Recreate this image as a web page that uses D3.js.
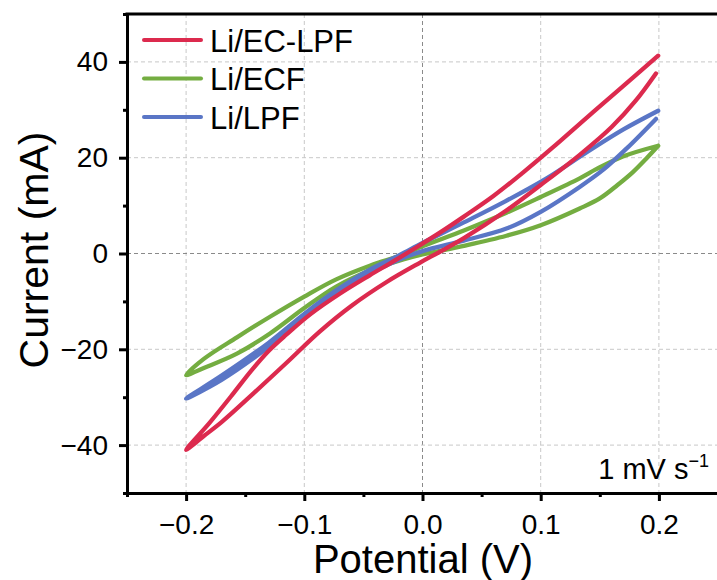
<!DOCTYPE html>
<html>
<head>
<meta charset="utf-8">
<script src="https://cdn.jsdelivr.net/npm/d3@7"></script>
<style>
  body { margin: 0; background: #fff; }
  svg { display: block; font-family: "Liberation Sans", Arial, sans-serif; }
</style>
</head>
<body>
<div class="canvas"></div>
<script>
// CV loops, potential (V) and current (mA)
const redPotential = [0.1994, 0.17, 0.14, 0.11, 0.085, 0.06, 0.035, 0.015, -0.005, -0.025, -0.045, -0.07, -0.095, -0.115, -0.13, -0.145, -0.16, -0.18, -0.2,
    -0.185, -0.17, -0.143, -0.115, -0.087, -0.06, -0.03, -0.002, 0.015, 0.035, 0.07, 0.1, 0.133, 0.16, 0.18, 0.1975];
const redCurrent = [41.3, 35.0, 28.6, 22.1, 16.9, 12.0, 7.7, 4.4, 1.3, -1.7, -4.6, -8.4, -12.7, -16.9, -20.3, -24.5, -29.2, -35.3, -41.0,
    -38.1, -35.2, -29.2, -22.8, -16.3, -10.9, -5.9, -1.9, 0.4, 3.2, 8.8, 14.3, 20.6, 26.4, 31.8, 37.6];

const greenPotential = [0.1994, 0.17, 0.147, 0.133, 0.1, 0.071, 0.035, 0.0, -0.017, -0.044, -0.073, -0.1, -0.129, -0.157, -0.185, -0.2,
    -0.185, -0.157, -0.129, -0.1, -0.073, -0.044, -0.017, 0.0, 0.035, 0.071, 0.1, 0.133, 0.15, 0.165, 0.178, 0.19, 0.1994];
const greenCurrent = [22.5, 20.3, 17.6, 15.7, 11.8, 8.5, 4.8, 1.5, -0.3, -2.5, -5.4, -9.0, -13.2, -17.5, -22.0, -25.4,
    -23.9, -20.9, -16.7, -11.4, -6.9, -3.5, -1.3, -0.2, 1.6, 3.7, 5.9, 9.4, 11.5, 14.3, 17.0, 20.0, 22.5];

const bluePotential = [0.1994, 0.17, 0.14, 0.105, 0.07, 0.035, 0.0, -0.02, -0.045, -0.073, -0.1, -0.13, -0.17, -0.2,
    -0.17, -0.13, -0.1, -0.073, -0.045, -0.02, 0.0, 0.035, 0.071, 0.1, 0.133, 0.153, 0.173, 0.1975];
const blueCurrent = [29.8, 25.9, 21.3, 15.7, 10.9, 6.5, 2.2, -0.4, -3.4, -7.7, -12.6, -18.6, -25.5, -30.3,
    -26.4, -19.5, -13.5, -8.6, -4.3, -1.3, 0.5, 2.7, 5.2, 8.7, 13.9, 17.5, 22.0, 28.1];

const seriesNames = ['Li/EC-LPF', 'Li/ECF', 'Li/LPF'];
const seriesColors = ['#dc2a4e', '#74ad41', '#5a76c6'];

const xMajor = [-0.2, -0.1, 0.0, 0.1, 0.2];
const xMinor = [-0.25, -0.15, -0.05, 0.05, 0.15, 0.25];
const yMajor = [-40, -20, 0, 20, 40];
const yMinor = [-50, -30, -10, 10, 30, 50];

const series = [
    {name: seriesNames[0], color: seriesColors[0], pts: redPotential.map((v, i) => [v, redCurrent[i]])},
    {name: seriesNames[1], color: seriesColors[1], pts: greenPotential.map((v, i) => [v, greenCurrent[i]])},
    {name: seriesNames[2], color: seriesColors[2], pts: bluePotential.map((v, i) => [v, blueCurrent[i]])}
];

const svg = d3.select('.canvas')
    .append('svg')
        .attr('width', 717)
        .attr('height', 580);

const x = d3.scaleLinear().domain([-0.25, 0.25]).range([127, 718]);
const y = d3.scaleLinear().domain([-50, 50]).range([493, 14]);

// grid
const grid = svg.append('g');
grid.selectAll('.gx')
    .data(xMajor)
    .enter().append('line')
        .attr('x1', d => x(d)).attr('x2', d => x(d))
        .attr('y1', y(50)).attr('y2', y(-50))
        .attr('stroke', d => d === 0 ? '#8a8a8a' : '#c8c8c8')
        .attr('stroke-width', 1)
        .attr('stroke-dasharray', '4,3');
grid.selectAll('.gy')
    .data(yMajor)
    .enter().append('line')
        .attr('x1', x(-0.25)).attr('x2', 717)
        .attr('y1', d => y(d)).attr('y2', d => y(d))
        .attr('stroke', d => d === 0 ? '#8a8a8a' : '#c8c8c8')
        .attr('stroke-width', 1)
        .attr('stroke-dasharray', '4,3');

// curves (red on top)
const line = d3.line()
    .x(d => x(d[0]))
    .y(d => y(d[1]))
    .curve(d3.curveCatmullRom.alpha(0.5));

svg.append('g')
    .selectAll('path')
    .data([series[1], series[2], series[0]])
    .enter().append('path')
        .attr('d', d => line(d.pts))
        .attr('fill', 'none')
        .attr('stroke', d => d.color)
        .attr('stroke-width', 4.3)
        .attr('stroke-linejoin', 'round')
        .attr('stroke-linecap', 'round');

// axes
svg.append('g')
    .attr('transform', `translate(0,${y(-50)})`)
    .call(d3.axisBottom(x).tickValues(xMajor).tickFormat(d3.format('.1f')).tickSize(8).tickSizeOuter(0).tickPadding(13));
svg.append('g')
    .attr('transform', `translate(0,${y(-50)})`)
    .call(d3.axisBottom(x).tickValues(xMinor).tickFormat('').tickSize(4).tickSizeOuter(0));

svg.append('g')
    .attr('transform', `translate(${x(-0.25)},0)`)
    .call(d3.axisLeft(y).tickValues(yMajor).tickFormat(d3.format('d')).tickSize(8).tickSizeOuter(0).tickPadding(11));
svg.append('g')
    .attr('transform', `translate(${x(-0.25)},0)`)
    .call(d3.axisLeft(y).tickValues(yMinor).tickFormat('').tickSize(4).tickSizeOuter(0));

svg.selectAll('.domain').attr('stroke', '#000').attr('stroke-width', 3);
svg.selectAll('.tick line').attr('stroke', '#000').attr('stroke-width', 3);
svg.selectAll('.tick text').attr('font-size', 28).attr('fill', '#000')
    .attr('font-family', '"Liberation Sans", Arial, sans-serif');

// top frame
svg.append('line')
    .attr('x1', x(-0.25) - 1.5).attr('x2', 717)
    .attr('y1', y(50)).attr('y2', y(50))
    .attr('stroke', '#000').attr('stroke-width', 3);

// axis titles
svg.append('text')
    .attr('x', 423).attr('y', 573)
    .attr('text-anchor', 'middle')
    .attr('font-size', 40)
    .text('Potential (V)');
svg.append('text')
    .attr('transform', 'translate(48,250) rotate(-90)')
    .attr('text-anchor', 'middle')
    .attr('font-size', 41)
    .text('Current (mA)');

// legend
const legend = svg.append('g');
series.forEach((s, i) => {
    const ly = 40 + i * 38.5;
    legend.append('line')
        .attr('x1', 144).attr('x2', 201)
        .attr('y1', ly).attr('y2', ly)
        .attr('stroke', s.color).attr('stroke-width', 4)
        .attr('stroke-linecap', 'round');
    legend.append('text')
        .attr('x', 210).attr('y', ly + 11.5)
        .attr('font-size', 31)
        .text(s.name);
});

// scan rate note
const note = svg.append('text')
    .attr('x', 709).attr('y', 479)
    .attr('text-anchor', 'end')
    .attr('font-size', 29);
note.append('tspan').text('1 mV s');
note.append('tspan').attr('dy', -12).attr('font-size', 18).text('\u22121');
</script>
</body>
</html>
